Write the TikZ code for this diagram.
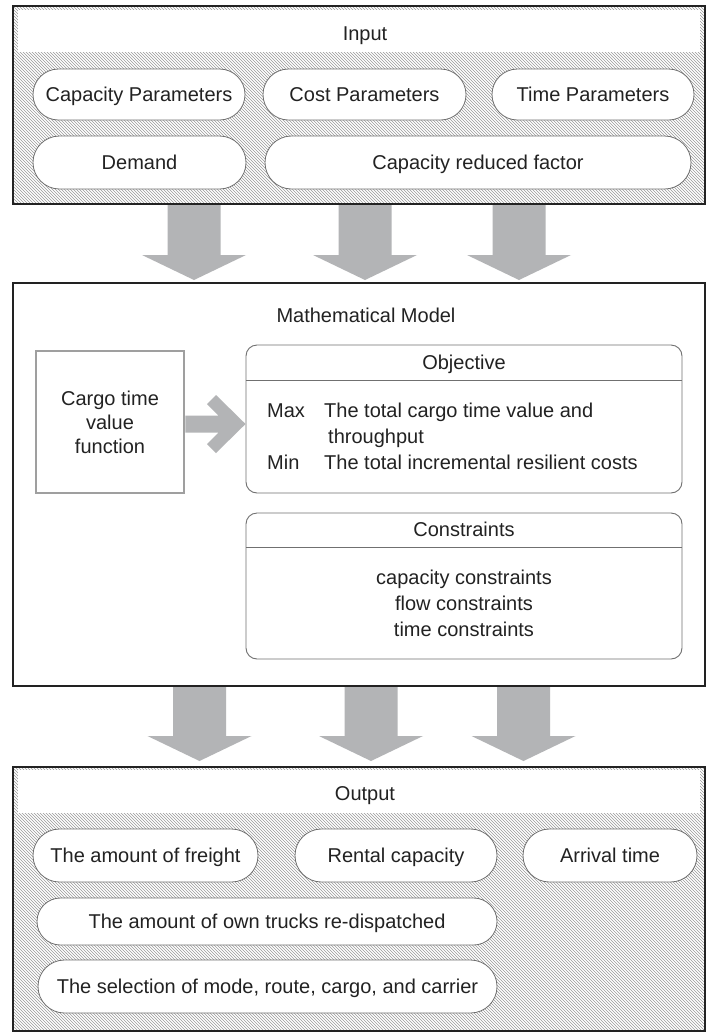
\documentclass[tikz,border=0pt]{standalone}
\usepackage{fontspec}
\setmainfont{Liberation Sans}
\usetikzlibrary{patterns,shapes.misc}
\definecolor{arrowgray}{HTML}{B3B4B6}
\definecolor{hatchgray}{HTML}{9A9A9A}
\definecolor{framec}{HTML}{222222}
\definecolor{pillc}{HTML}{707070}
\definecolor{textc}{HTML}{222222}
\newcommand\fatdownarrow[4]{%
  \fill[arrowgray] (#1-26.5,#2) -- (#1+26.5,#2) -- (#1+26.5,#3) -- (#1+52,#3) -- (#1,#4) -- (#1-52,#3) -- (#1-26.5,#3) -- cycle;}
\begin{document}
\begin{tikzpicture}[x=1pt,y=-1pt,
  every node/.style={text=textc},
  font=\fontsize{20}{24}\selectfont,
  frame/.style={draw=framec, line width=2pt, inner sep=0pt},
  hatched/.style={pattern=north west lines, pattern color=hatchgray},
  pill/.style={rounded rectangle, draw=pillc, line width=0.8pt, fill=white, inner sep=0pt, text height=18pt, text depth=3.6pt},
  softbox/.style={draw=pillc, line width=0.9pt, rounded corners=11pt, fill=white, inner sep=0pt},
  plain/.style={inner sep=0pt},
  oneline/.style={inner sep=0pt, text height=18pt, text depth=3.6pt}]
\useasboundingbox (0,0) rectangle (707,1034);
\fill[white] (0,0) rectangle (707,1034);

% ---------------- Input ----------------
\node[frame, hatched, minimum width=692pt, minimum height=198pt] (input) at (359,105) {};
\fill[white] (18,10) rectangle (700,52);
\node[oneline] (intitle) at (365,33) {Input};
\node[pill, minimum width=212pt, minimum height=51pt] (cap)  at (139,94.5) {Capacity Parameters};
\node[pill, minimum width=203pt, minimum height=51pt] (cost) at (364.5,94.5) {Cost Parameters};
\node[pill, minimum width=202pt, minimum height=51pt] (time) at (593,94.5) {Time Parameters};
\node[pill, minimum width=213pt, minimum height=53pt] (dem)  at (139.5,162.5) {Demand};
\node[pill, minimum width=426pt, minimum height=53pt] (crf)  at (478,162.5) {Capacity reduced factor};

% ---------------- Mathematical model ----------------
\node[frame, fill=white, minimum width=692pt, minimum height=403pt] (math) at (359,484.5) {};
\node[oneline] (mtitle) at (366,315) {Mathematical Model};

\node[draw=gray!75, line width=2.5pt, minimum width=148pt, minimum height=142pt, inner sep=0pt, align=center] (cargo) at (110,422) {Cargo time\\value\\function};

\node[softbox, minimum width=436pt, minimum height=148pt] (obj) at (464,419) {};
\draw[pillc, line width=0.9pt] (246,380) -- (682,380);
\node[oneline] (objt) at (464,362) {Objective};
\node[oneline, anchor=west] (max) at (267,410) {Max};
\node[oneline, anchor=west] (maxt) at (324,410) {The total cargo time value and};
\node[oneline, anchor=west] (thr) at (328,436) {throughput};
\node[oneline, anchor=west] (min) at (267,462) {Min};
\node[oneline, anchor=west] (mint) at (324,462) {The total incremental resilient costs};

\node[softbox, minimum width=436pt, minimum height=146pt] (cons) at (464,586) {};
\draw[pillc, line width=0.9pt] (246,547) -- (682,547);
\node[oneline] (const) at (464,529) {Constraints};
\node[plain, align=center, font=\fontsize{20}{26}\selectfont] (consl) at (464,603) {capacity constraints\\flow constraints\\time constraints};

% arrow cargo -> objective
\fill[arrowgray] (cargo.east |- 0,415.5) -- (218.5,415.5) -- (207,404) -- (216,395) -- (obj.west |- 0,424) -- (216,453) -- (207,444) -- (218.5,432.5) -- (cargo.east |- 0,432.5) -- cycle;

% ---------------- Output ----------------
\node[frame, hatched, minimum width=692pt, minimum height=264pt] (output) at (359,899) {};
\fill[white] (18,770) rectangle (700,813);
\node[oneline] (outtitle) at (365,793) {Output};
\node[pill, minimum width=225pt, minimum height=53pt] (frt)  at (145.5,855.5) {The amount of freight};
\node[pill, minimum width=202pt, minimum height=53pt] (rent) at (396,855.5) {Rental capacity};
\node[pill, minimum width=174pt, minimum height=53pt] (arr)  at (610,855.5) {Arrival time};
\node[pill, minimum width=460pt, minimum height=47pt] (own)  at (267,921.5) {The amount of own trucks re-dispatched};
\node[pill, minimum width=459pt, minimum height=53pt] (sel)  at (267.5,986.5) {The selection of mode, route, cargo, and carrier};

% ---------------- Fat arrows ----------------
\fatdownarrow{194}{205}{255}{280}
\fatdownarrow{365}{205}{255}{280}
\fatdownarrow{519}{205}{255}{280}
\fatdownarrow{199.5}{687}{736}{761}
\fatdownarrow{371}{687}{736}{761}
\fatdownarrow{523.5}{687}{736}{761}
\end{tikzpicture}
\end{document}
